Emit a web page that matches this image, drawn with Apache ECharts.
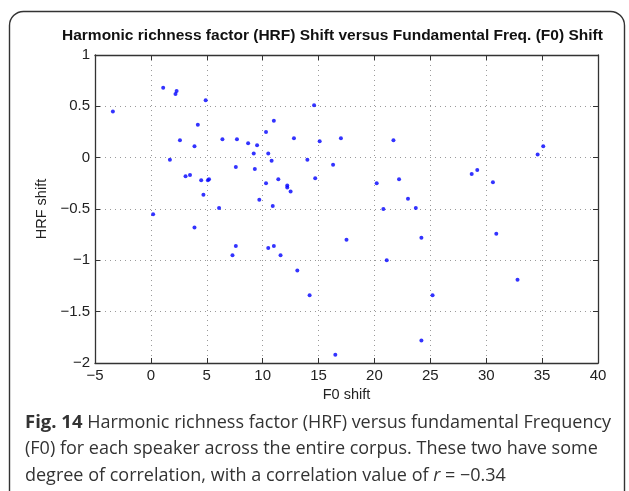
<!DOCTYPE html>
<html lang="en">
<head>
    <meta charset="UTF-8">
    <title>HRF shift vs F0 shift</title>
    <script src="https://cdn.jsdelivr.net/npm/echarts@6/dist/echarts.min.js"></script>
    <style>
        html, body { margin: 0; padding: 0; background: #fff; }
    </style>
</head>
<body>
<div id="main" style="width: 629px;height:491px;"></div>
<script type="text/javascript">
    // F0 shift (x) / HRF shift (y) per speaker
    var f0Shift = [
        -3.4, 1.1, 2.3, 2.2, 4.9, 4.2, 2.6, 3.9, 1.7, 3.1,
        3.5, 4.5, 5.1, 5.2, 4.7, 6.1, 6.4, 7.7, 7.6, 8.7,
        9.5, 9.2, 9.3, 9.7, 10.9, 10.3, 11.0, 10.5, 10.8, 10.3,
        11.4, 12.2, 12.2, 12.5, 12.8, 14.0, 14.6, 14.7, 15.1, 16.3,
        17.0, 0.2, 3.9, 7.6, 7.3, 10.5, 11.0, 11.6, 13.1, 14.2,
        16.5, 21.7, 20.2, 22.2, 23.0, 20.8, 23.7, 28.7, 29.2, 30.6,
        34.6, 35.1, 17.5, 24.2, 21.1, 30.9, 32.8, 25.2, 24.2
    ];
    var hrfShift = [
        0.45, 0.68, 0.65, 0.62, 0.56, 0.32, 0.17, 0.11, -0.02, -0.18,
        -0.17, -0.22, -0.22, -0.21, -0.36, -0.49, 0.18, 0.18, -0.09, 0.14,
        0.12, 0.04, -0.11, -0.41, -0.47, 0.25, 0.36, 0.04, -0.03, -0.25,
        -0.21, -0.27, -0.29, -0.33, 0.19, -0.02, 0.51, -0.20, 0.16, -0.07,
        0.19, -0.55, -0.68, -0.86, -0.95, -0.88, -0.86, -0.95, -1.10, -1.34,
        -1.92, 0.17, -0.25, -0.21, -0.40, -0.50, -0.49, -0.16, -0.12, -0.24,
        0.03, 0.11, -0.80, -0.78, -1.00, -0.74, -1.19, -1.34, -1.78
    ];
    var xTicks = { min: -5, max: 40, step: 5 };
    var yTicks = { min: -2, max: 1, step: 0.5 };

    var points = f0Shift.map(function (x, i) { return [x, hrfShift[i]]; });

    function minus(v) {
        return String(v).replace('-', '\u2212');
    }

    var axisFont = 'Liberation Sans, Arial, sans-serif';
    var gridLine = { show: true, lineStyle: { color: '#9a9a9a', type: [1, 4], width: 1 } };
    var boxLine = { show: true, onZero: false, lineStyle: { color: '#333', width: 1.3 } };

    var myChart = echarts.init(document.getElementById('main'));

    var option = {
        animation: false,
        backgroundColor: '#fff',
        title: {
            text: 'Harmonic richness factor (HRF) Shift versus Fundamental Freq. (F0) Shift',
            left: 57,
            top: 23,
            textStyle: { fontFamily: axisFont, fontSize: 15.5, fontWeight: 'bold', color: '#111' }
        },
        grid: { left: 95, right: 31, top: 55, bottom: 128 },
        xAxis: [{
            type: 'value',
            min: xTicks.min, max: xTicks.max, interval: xTicks.step,
            name: 'F0 shift', nameLocation: 'middle', nameGap: 23,
            nameTextStyle: { fontFamily: axisFont, fontSize: 14.5, color: '#222' },
            axisLine: boxLine,
            axisTick: { show: true, inside: true, length: 5, lineStyle: { color: '#333' } },
            axisLabel: { fontFamily: axisFont, fontSize: 15, color: '#222', margin: 5, formatter: minus },
            splitLine: gridLine
        }, {
            type: 'value', position: 'top',
            min: xTicks.min, max: xTicks.max, interval: xTicks.step,
            axisLine: boxLine,
            axisTick: { show: true, inside: true, length: 5, lineStyle: { color: '#333' } },
            axisLabel: { show: false },
            splitLine: { show: false }
        }],
        yAxis: [{
            type: 'value',
            min: yTicks.min, max: yTicks.max, interval: yTicks.step,
            name: 'HRF shift', nameLocation: 'middle', nameGap: 46,
            nameTextStyle: { fontFamily: axisFont, fontSize: 14.5, color: '#222' },
            axisLine: boxLine,
            axisTick: { show: true, inside: true, length: 5, lineStyle: { color: '#333' } },
            axisLabel: { fontFamily: axisFont, fontSize: 15, color: '#222', margin: 5, formatter: minus },
            splitLine: gridLine
        }, {
            type: 'value', position: 'right',
            min: yTicks.min, max: yTicks.max, interval: yTicks.step,
            axisLine: boxLine,
            axisTick: { show: true, inside: true, length: 5, lineStyle: { color: '#333' } },
            axisLabel: { show: false },
            splitLine: { show: false }
        }],
        series: [{
            type: 'scatter',
            data: points,
            symbol: 'circle',
            symbolSize: 4,
            itemStyle: { color: '#0000ff' }
        }],
        graphic: [
            {
                type: 'rect',
                shape: { x: 9.5, y: 11.5, width: 615, height: 520, r: 14 },
                style: { fill: 'none', stroke: '#333', lineWidth: 1.4 },
                silent: true
            },
            {
                type: 'text', left: 25, top: 413,
                style: {
                    text: '{b|Fig. 14} Harmonic richness factor (HRF) versus fundamental Frequency',
                    font: '18px "Open Sans", sans-serif', fill: '#333',
                    rich: { b: { font: 'bold 18.5px "Open Sans", sans-serif', fill: '#333' } }
                }
            },
            {
                type: 'text', left: 25, top: 440,
                style: {
                    text: '(F0) for each speaker across the entire corpus. These two have some',
                    font: '18px "Open Sans", sans-serif', fill: '#333'
                }
            },
            {
                type: 'text', left: 25, top: 467,
                style: {
                    text: 'degree of correlation, with a correlation value of {i|r} = \u22120.34',
                    font: '18px "Open Sans", sans-serif', fill: '#333',
                    rich: { i: { font: 'italic 18px "Open Sans", sans-serif', fill: '#333' } }
                }
            }
        ]
    };

    myChart.setOption(option);
</script>
</body>
</html>
